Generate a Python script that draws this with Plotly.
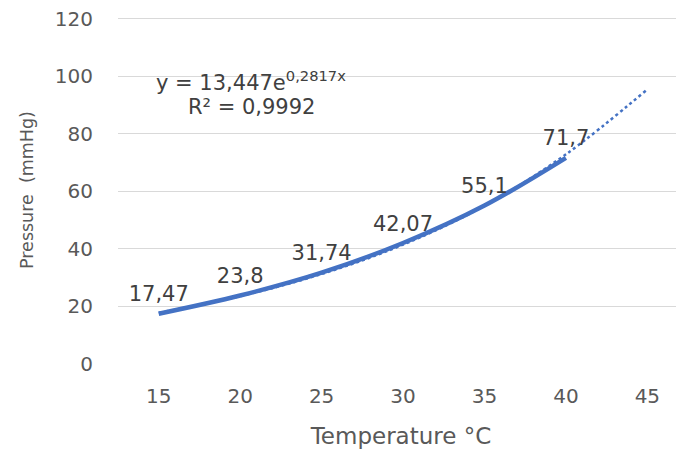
import plotly.graph_objects as go

temps = ["15", "20", "25", "30", "35", "40", "45"]
pressure = [17.47, 23.8, 31.74, 42.07, 55.1, 71.7]
pressure_labels = ["17,47", "23,8", "31,74", "42,07", "55,1", "71,7"]
trend = [17.8, 23.6, 31.3, 41.5, 55.0, 72.9, 95.5]
y_ticks = [0, 20, 40, 60, 80, 100, 120]

FONT = "DejaVu Sans"
fig = go.Figure()
fig.add_trace(go.Scatter(
    x=temps, y=trend, mode="lines", line=dict(color="#4472C4", width=2.5, dash="dot", shape="spline"),
    hoverinfo="skip", showlegend=False))
fig.add_trace(go.Scatter(
    x=temps[:len(pressure)], y=pressure, mode="lines+markers+text", text=pressure_labels,
    marker=dict(size=10, opacity=0),
    textposition="top center", textfont=dict(family=FONT, size=21, color="#404040"),
    line=dict(color="#4472C4", width=4.5, shape="spline"), hoverinfo="skip", showlegend=False))

fig.add_annotation(x=0.235, xref="paper", xanchor="center", y=98.3, yref="y", showarrow=False,
                   text="y = 13,447e<sup>0,2817x</sup>", font=dict(family=FONT, size=21, color="#404040"))
fig.add_annotation(x=0.235, xref="paper", xanchor="center", y=89.2, yref="y", showarrow=False,
                   text="R² = 0,9992", font=dict(family=FONT, size=21, color="#404040"))

fig.update_layout(
    width=676, height=444, margin=dict(l=110, r=0, t=8, b=88),
    paper_bgcolor="white", plot_bgcolor="white",
    xaxis=dict(type="category", categoryorder="array", categoryarray=temps, range=[-0.5, 6.45],
               showgrid=False, showline=False, zeroline=False, ticks="", automargin=False,
               ticklabelstandoff=18,
               tickfont=dict(family=FONT, size=20, color="#595959"),
               title=dict(text="Temperature °C", font=dict(family=FONT, size=23, color="#595959"), standoff=20)),
    yaxis=dict(range=[0, 121], tickvals=y_ticks, showgrid=True, gridcolor="#d9d9d9", gridwidth=1,
               zeroline=False, showline=False, ticks="", ticklabelstandoff=24, automargin=False,
               ticklabeloverflow="allow",
               tickfont=dict(family=FONT, size=20, color="#595959"),
               title=dict(text="Pressure  (mmHg)", font=dict(family=FONT, size=17.5, color="#595959"), standoff=16)),
)
fig.write_html("out.html")
